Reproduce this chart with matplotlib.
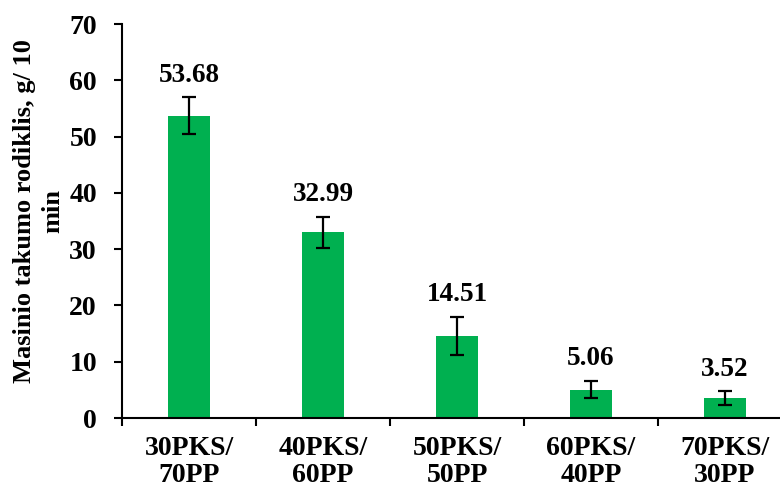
import matplotlib
matplotlib.use("Agg")
import matplotlib.pyplot as plt
import numpy as np

categories = ["30PKS/\n70PP", "40PKS/\n60PP", "50PKS/\n50PP", "60PKS/\n40PP", "70PKS/\n30PP"]
values = [53.68, 32.99, 14.51, 5.06, 3.52]
errors = [3.3, 2.8, 3.4, 1.5, 1.2]
labels = ["53.68", "32.99", "14.51", "5.06", "3.52"]
y_ticks = [0, 10, 20, 30, 40, 50, 60, 70]

plt.rcParams['font.family'] = ['Liberation Serif', 'DejaVu Serif']
plt.rcParams['font.weight'] = 'bold'

fig = plt.figure(figsize=(7.8, 4.9), dpi=100)
ax = fig.add_axes([122/780, 1-418/490, 670/780, (418-24)/490])

x = np.arange(len(categories)) + 0.5
ax.bar(x, values, width=0.31, color='#00B050', zorder=2)
ax.errorbar(x, values, yerr=errors, fmt='none', ecolor='black', elinewidth=1.6,
            capsize=5, capthick=1.6, zorder=3)
for xi, v, e, lab in zip(x, values, errors, labels):
    ax.annotate(lab, (xi, v + e), xytext=(0, 7), textcoords='offset points',
                ha='center', va='bottom', fontsize=19.5, fontweight='bold')

ax.set_xlim(0, len(categories))
ax.set_ylim(0, 70)
ax.set_yticks(y_ticks)
ax.set_yticklabels([str(t) for t in y_ticks], fontsize=20, fontweight='bold')
ax.set_xticks(np.arange(len(categories) + 1))
ax.set_xticklabels([])
ax.set_xticks(x, minor=True)
ax.set_xticklabels(categories, minor=True, fontsize=20, fontweight='bold', linespacing=1.12)
ax.tick_params(axis='x', which='minor', length=0, pad=13)
ax.tick_params(axis='x', which='major', length=6, width=1.5, direction='out')
ax.tick_params(axis='y', length=6, width=1.5, direction='out', pad=12)
for s in ['top', 'right']:
    ax.spines[s].set_visible(False)
for s in ['left', 'bottom']:
    ax.spines[s].set_linewidth(1.5)
fig.text(39/780, 1-211/490, "Masinio takumo rodiklis, g/ 10\nmin", rotation=90,
         ha='center', va='center', fontsize=19, fontweight='bold', linespacing=1.3)

fig.savefig("out.png", dpi=100)
